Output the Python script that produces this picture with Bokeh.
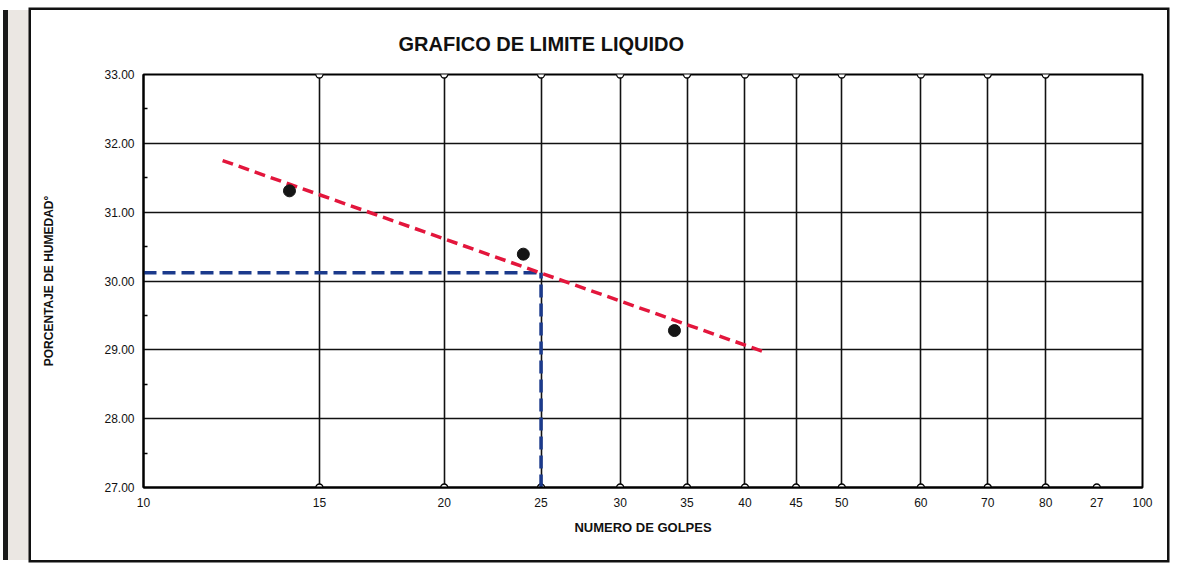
from bokeh.plotting import figure
from bokeh.models import FixedTicker, Range1d, PrintfTickFormatter, Title
from bokeh.embed import file_html
from bokeh.resources import INLINE

# ---- data ----
golpes = [14, 24, 34]
humedad = [31.31, 30.39, 29.28]
trend_golpes = [12.0, 42.0]
trend_humedad = [31.75, 28.96]
ll_golpes = 25
ll_humedad = 30.12
x_ticks = [10, 15, 20, 25, 30, 35, 40, 45, 50, 60, 70, 80, 90, 100]
x_tick_labels = ["10", "15", "20", "25", "30", "35", "40", "45", "50", "60", "70", "80", "27", "100"]
x_grid = [15, 20, 25, 30, 35, 40, 45, 50, 60, 70, 80]
x_bottom_marks = [15, 20, 25, 30, 35, 40, 45, 50, 60, 70, 80, 90]
y_ticks = [27, 28, 29, 30, 31, 32, 33]
y_minor = [27.5, 28.5, 29.5, 30.5, 31.5, 32.5]
y_grid = [28, 29, 30, 31, 32]
x_min, x_max = 10, 100
y_min, y_max = 27, 33

FONT = "Liberation Sans"

p = figure(width=1136, height=550, x_axis_type="log",
           x_range=Range1d(x_min, x_max), y_range=Range1d(y_min, y_max),
           output_backend="svg", toolbar_location=None,
           min_border_left=112, min_border_right=25,
           min_border_top=62, min_border_bottom=73,
           background_fill_color="white", border_fill_color="white")

# outer frame of the sheet drawn with CSS shadows around the figure
p.styles = {
    "margin-left": "31px",
    "margin-top": "10px",
    "box-shadow": "0 0 0 2.5px #111111, -23px 0 0 0 #ebe7e3, -28px 0 0 0 #1a1a1a",
}

p.title = Title(text="GRAFICO DE LIMITE LIQUIDO", align="left", offset=255,
                text_font_size="20px", text_font=FONT, text_font_style="bold",
                text_color="#111111", standoff=40)

p.outline_line_color = "black"
p.outline_line_width = 2

# grid
p.xgrid.ticker = FixedTicker(ticks=x_grid)
p.ygrid.ticker = FixedTicker(ticks=y_grid)
for g in (p.xgrid, p.ygrid):
    g.grid_line_color = "#111111"
    g.grid_line_width = 1.6
    g.grid_line_alpha = 1

# x axis
xa = p.xaxis[0]
xa.ticker = FixedTicker(ticks=x_ticks)
xa.major_label_overrides = {t: l for t, l in zip(x_ticks, x_tick_labels)}
xa.major_tick_in = 0
xa.major_tick_out = 0
xa.minor_tick_in = 0
xa.minor_tick_out = 0
xa.axis_line_width = 2
xa.axis_line_color = "black"
xa.major_label_standoff = 10
xa.major_label_text_font = FONT
xa.major_label_text_font_size = "12px"
xa.major_label_text_color = "#111111"
xa.axis_label = "NUMERO DE GOLPES"
xa.axis_label_text_font = FONT
xa.axis_label_text_font_size = "13px"
xa.axis_label_text_font_style = "bold"
xa.axis_label_text_color = "#111111"
xa.axis_label_standoff = 10

# y axis
ya = p.yaxis[0]
ya.ticker = FixedTicker(ticks=y_ticks, minor_ticks=y_minor)
ya.formatter = PrintfTickFormatter(format="%.2f")
ya.major_tick_in = 0
ya.major_tick_out = 0
ya.minor_tick_in = 4
ya.minor_tick_out = 0
ya.minor_tick_line_color = "black"
ya.minor_tick_line_width = 1.5
ya.axis_line_width = 2
ya.axis_line_color = "black"
ya.major_label_standoff = 9
ya.major_label_text_font = FONT
ya.major_label_text_font_size = "12px"
ya.major_label_text_color = "#111111"
ya.axis_label = "PORCENTAJE DE HUMEDAD°"
ya.axis_label_text_font = FONT
ya.axis_label_text_font_size = "12px"
ya.axis_label_text_font_style = "bold"
ya.axis_label_text_color = "#111111"
ya.axis_label_standoff = 45

# small circle marks along top and bottom edges
p.scatter(x=x_grid, y=[y_max] * len(x_grid), marker="circle", size=7,
          fill_color="white", line_color="black", line_width=1.3)
p.scatter(x=x_bottom_marks, y=[y_min] * len(x_bottom_marks), marker="circle", size=7,
          fill_color="white", line_color="black", line_width=1.3)

# liquid limit guide lines (blue)
p.line(x=[x_min, ll_golpes], y=[ll_humedad, ll_humedad], line_color="#1b3a8c",
       line_width=3.5, line_dash="13 6")
p.line(x=[ll_golpes, ll_golpes], y=[y_min, ll_humedad], line_color="#1b3a8c",
       line_width=3.5, line_dash="13 6")

# trend line (red)
p.line(x=trend_golpes, y=trend_humedad, line_color="#e3163c", line_width=3.5,
       line_dash="11 6")

# data points
p.scatter(x=golpes, y=humedad, marker="circle", size=12,
          fill_color="#151515", line_color="#151515")

open("out.html", "w").write(file_html(p, INLINE))
